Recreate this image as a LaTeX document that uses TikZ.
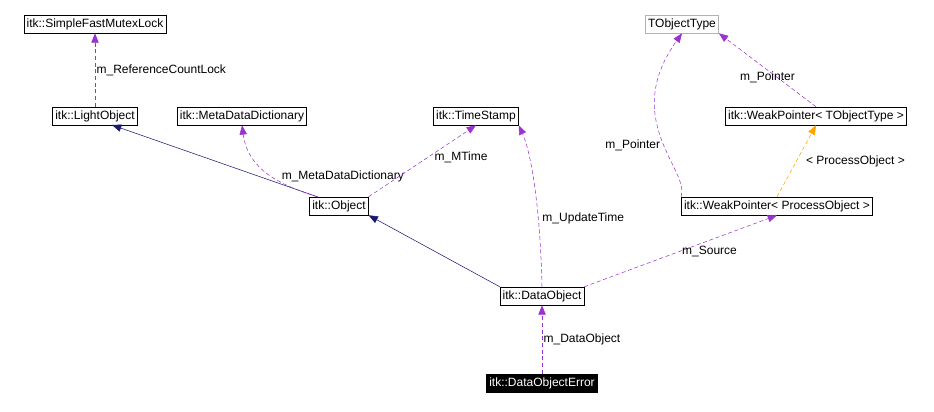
\documentclass[tikz,border=0pt]{standalone}
\usepackage{fontspec}
\setmainfont{Liberation Sans}
\usetikzlibrary{arrows.meta}
\definecolor{edgepurple}{HTML}{9A32CD}
\definecolor{edgenavy}{HTML}{191970}
\definecolor{edgeorange}{HTML}{FFA500}
\tikzset{
  cls/.style={draw,thin,inner sep=2pt,minimum height=13.5pt,font=\fontsize{9}{10}\selectfont},
  lbl/.style={font=\fontsize{9}{10}\selectfont,text=black,inner sep=1pt},
  uses/.style={edgepurple,densely dashed,-{Triangle[length=7pt,width=5.5pt]}},
  inherits/.style={edgenavy,-{Triangle[length=7pt,width=5.5pt]}},
  templ/.style={edgeorange,densely dashed,-{Triangle[length=7pt,width=5.5pt]}}
}
\begin{document}
\begin{tikzpicture}[x=0.75pt,y=-0.75pt]
\useasboundingbox (0,0) rectangle (934,411);
\node[cls] (mutex) at (95,24) {itk::SimpleFastMutexLock};
\node[cls] (light) at (95,116) {itk::LightObject};
\node[cls] (meta) at (242,116) {itk::MetaDataDictionary};
\node[cls] (stamp) at (476,116) {itk::TimeStamp};
\node[cls,draw=gray!60] (tobj) at (682,24) {TObjectType};
\node[cls] (wpt) at (816,116) {itk::WeakPointer< TObjectType >};
\node[cls] (object) at (339,206) {itk::Object};
\node[cls] (wpp) at (777,206) {itk::WeakPointer< ProcessObject >};
\node[cls] (data) at (542,296) {itk::DataObject};
\node[cls,fill=black,text=white] (error) at (542,383) {itk::DataObjectError};
\coordinate (objtop) at (318,197);
\coordinate (lighthit) at (112,125);

\draw[uses] (light) -- (mutex) node[midway,right,lbl] {m\_ReferenceCountLock};
\draw[inherits] (objtop) -- (lighthit);
\draw[uses] (objtop) .. controls (280,185) and (248,170) .. (meta.south) node[pos=0.45,right=6pt,lbl] {m\_MetaDataDictionary};
\draw[uses] (object.north east) -- (stamp.south) node[pos=0.55,right=4pt,lbl] {m\_MTime};
\draw[inherits] (data.north west) -- (object.south east);
\draw[uses] (data.north) .. controls (540,200) and (530,150) .. (stamp.south east) node[pos=0.3,right=2pt,lbl] {m\_UpdateTime};
\draw[uses] (data.north east) -- (wpp.south) node[pos=0.65,below=3pt,lbl] {m\_Source};
\draw[uses] (wpp.north west) .. controls (690,170) and (620,120) .. (tobj.south) node[pos=0.45,left=2pt,lbl] {m\_Pointer};
\draw[uses] (wpt.north) -- (tobj.south east) node[midway,below,lbl] {m\_Pointer};
\draw[templ] (wpp.north) -- (wpt.south) node[midway,right=6pt,lbl] {< ProcessObject >};
\draw[uses] (error) -- (data) node[midway,right,lbl] {m\_DataObject};
\end{tikzpicture}
\end{document}
